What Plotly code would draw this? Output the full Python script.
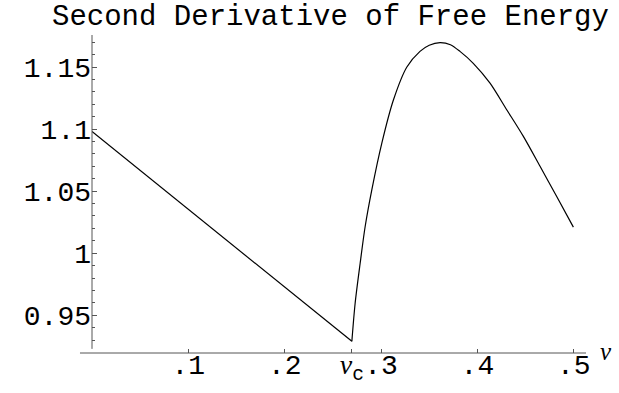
"""
Second derivative of the free energy vs nu, redrawn with Plotly.
"""

import plotly.graph_objects as go

# Curve (straight branch up to nu_c, then the hump)
nu_values = [0.0, 0.2697, 0.2731, 0.2783, 0.2835, 0.2904, 0.3008, 0.3129,
             0.3268, 0.3404, 0.3500, 0.3612, 0.3720, 0.3819, 0.3957, 0.4131,
             0.4304, 0.4477, 0.4650, 0.4823, 0.4996]
d2f_values = [1.098, 0.929, 0.9597, 0.9919, 1.0215, 1.051, 1.0887, 1.1236,
              1.150, 1.1626, 1.1676, 1.1697, 1.1680, 1.1626, 1.153, 1.137,
              1.1156, 1.0941, 1.070, 1.0457, 1.0210]

# Axis ticks
nu_c = 0.2697
x_tickvals = [0.1, 0.2, nu_c, 0.3, 0.4, 0.5]
x_ticktext = [".1", ".2",
              "<span style='font-family:Liberation Serif'><i>ν</i></span><sub>c</sub>",
              ".3", ".4", ".5"]
y_tickvals = [0.95, 1.0, 1.05, 1.1, 1.15]
y_ticktext = ["0.95", "1", "1.05", "1.1", "1.15"]

FONT = "Liberation Mono, Courier New, monospace"
AXIS_COLOR = "#555555"

fig = go.Figure()

# straight part below the transition
fig.add_trace(go.Scatter(
    x=nu_values[:2],
    y=d2f_values[:2],
    mode="lines",
    line=dict(color="black", width=1.2),
    showlegend=False,
))

# smooth part above the transition
fig.add_trace(go.Scatter(
    x=nu_values[1:],
    y=d2f_values[1:],
    mode="lines",
    line=dict(color="black", width=1.2, shape="spline", smoothing=0.8),
    showlegend=False,
))

fig.update_layout(
    width=619,
    height=393,
    margin=dict(l=92, r=33, t=35, b=40),
    plot_bgcolor="white",
    paper_bgcolor="white",
    font=dict(family=FONT, size=28, color="black"),
    xaxis=dict(
        range=[0, 0.5127], automargin=False, tickangle=0,
        showgrid=False, zeroline=False, showline=False,
        tickmode="array", tickvals=x_tickvals, ticktext=x_ticktext,
        ticks="inside", ticklen=4, tickwidth=1, tickcolor=AXIS_COLOR,
        ticklabelstandoff=-8,
    ),
    yaxis=dict(
        range=[0.9196, 1.1758], automargin=False,
        showgrid=False, zeroline=False, showline=False,
        tickmode="array", tickvals=y_tickvals, ticktext=y_ticktext,
        ticks="inside", ticklen=5, tickwidth=1, tickcolor=AXIS_COLOR,
        minor=dict(dtick=0.01, ticks="inside", ticklen=3,
                   tickcolor=AXIS_COLOR, showgrid=False),
    ),
    shapes=[
        # y axis (stops just short of the x axis, Mathematica style)
        dict(type="line", xref="paper", yref="paper",
             x0=0, x1=0, y0=0.013, y1=1,
             line=dict(color=AXIS_COLOR, width=1)),
        # x axis, sticking out a little to the left
        dict(type="line", xref="paper", yref="paper",
             x0=-0.0243, x1=1, y0=0, y1=0,
             line=dict(color=AXIS_COLOR, width=1)),
    ],
    annotations=[
        dict(text="Second Derivative of Free Energy",
             xref="paper", yref="paper", x=0.4838, y=1.055,
             xanchor="center", yanchor="middle", showarrow=False,
             font=dict(family=FONT, size=29)),
        dict(text="<i>ν</i>",
             xref="paper", yref="paper", x=1.024, y=0.005,
             xanchor="left", yanchor="middle", showarrow=False,
             font=dict(family="Liberation Serif, Times New Roman, serif", size=25)),
    ],
)

# drop the browser's default 8px body margin so the figure sits at (0, 0)
fig.write_html("out.html", config={"displayModeBar": False},
               post_script="document.body.style.margin='0';")
